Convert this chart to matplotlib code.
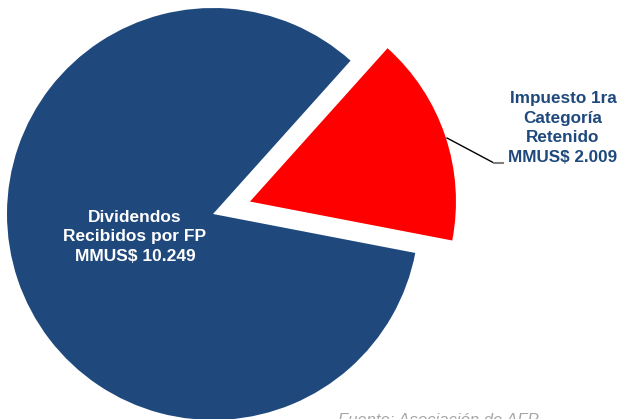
import matplotlib.pyplot as plt

# datos (MMUS$)
labels = ['Impuesto 1ra\nCategoría\nRetenido\nMMUS$ 2.009', 'Dividendos\nRecibidos por FP\nMMUS$ 10.249']
values = [2.009, 10.249]
colors = ['#FF0000', '#1F497D']
explode = [39, 0]   # en unidades de datos (pixeles)

plt.rcParams['font.family'] = ['Liberation Sans', 'DejaVu Sans']

fig = plt.figure(figsize=(6.19, 4.19), dpi=100)
ax = fig.add_axes([0, 0, 1, 1])

# pie centrado en pixel (213, 214) desde arriba
ax.pie(values, colors=colors, explode=explode, startangle=-10.9,
       center=(213, 205), radius=206, frame=True,
       wedgeprops=dict(linewidth=0))
ax.set_xlim(0, 619)
ax.set_ylim(0, 419)
ax.set_aspect('equal')
ax.axis('off')

# etiqueta del impuesto con línea guía
ax.plot([447, 494], [419 - 138, 419 - 163], color='black', lw=1)
ax.plot([494, 503], [419 - 163, 419 - 163], color='#808080', lw=1.5)
ax.text(563, 419 - 128, labels[0], ha='center', va='center', fontsize=12.3,
        fontweight='bold', color='#1F497D', linespacing=1.38)

# etiqueta de dividendos
ax.text(135, 419 - 237, labels[1], ha='center', va='center', fontsize=12.5,
        fontweight='bold', color='white', linespacing=1.35)

# fuente (cortada en el borde inferior, como en el original)
ax.text(338, 6, 'Fuente: Asociación de AFP', ha='left', va='top', fontsize=12,
        fontstyle='italic', color='#A6A6A6')

fig.savefig('out.png', dpi=100)
